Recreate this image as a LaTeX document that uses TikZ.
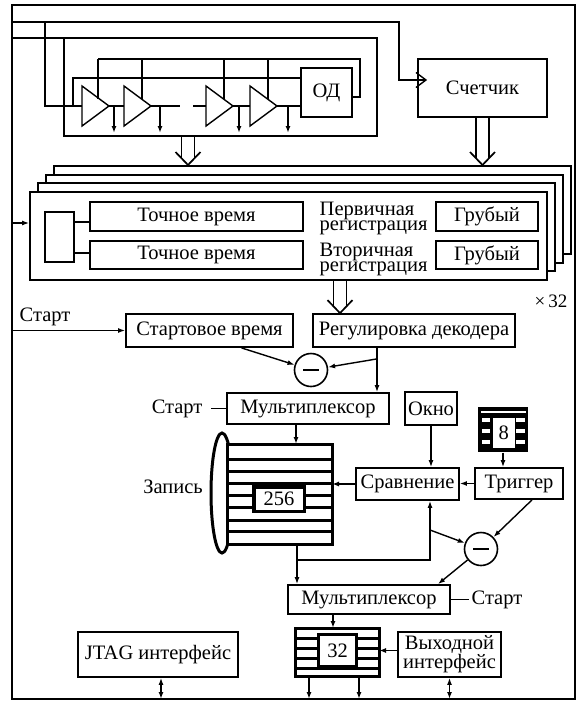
\documentclass[tikz,border=0pt]{standalone}
\usepackage{fontspec}
\setmainfont{Liberation Serif}
\usetikzlibrary{arrows.meta}

\tikzset{
  every picture/.style={line width=1.4pt},
  wire/.style={line width=1.4pt},
  arr/.style={wire,-{Latex[length=7pt,width=5pt]}},
  biarr/.style={wire,{Latex[length=7pt,width=5pt]}-{Latex[length=7pt,width=5pt]}},
  blk/.style 2 args={draw, line width=1.8pt, fill=white, inner sep=0pt,
    minimum width=#1, minimum height=#2, font=\fontsize{20.5}{20.5}\selectfont},
  lbl/.style={inner sep=0pt, font=\fontsize{20.5}{20.5}\selectfont},
  reg/.style={inner sep=0pt, align=left, font=\fontsize{20.5}{15}\selectfont},
  sub/.style={circle, draw, line width=1.6pt, minimum size=33pt, inner sep=0pt},
  layer/.style={draw, line width=1.8pt, fill=white, minimum width=517pt, minimum height=88pt},
  heavy/.style={draw, fill=white, outer sep=0pt, inner sep=0pt, font=\fontsize{20.5}{20.5}\selectfont},
}

% double (bus) arrow from #1 down to #2
\newcommand{\busarrow}[2]{%
  \draw[line width=1.7pt] ([xshift=-6.5pt]#1) -- ([xshift=-6.5pt,yshift=7pt]#2)
                          ([xshift=6.5pt]#1) -- ([xshift=6.5pt,yshift=7pt]#2);
  \draw[line width=1.7pt, line join=miter] ([xshift=-12.5pt,yshift=13pt]#2) -- (#2) -- ([xshift=12.5pt,yshift=13pt]#2);
}

\begin{document}
\begin{tikzpicture}[x=1pt,y=-1pt]
\useasboundingbox (0,0) rectangle (579,702);

% Outer frame
\coordinate (fnw) at (12,5);
\coordinate (fse) at (575,699);
\draw[line width=1.6pt] (fnw) rectangle (fse);

% Delay line with amplifiers
\node[blk={51pt}{49pt}] (od) at (326.5,92.5) {ОД};
\node[blk={129pt}{58pt}] (cnt) at (482.5,88) {Счетчик};
\draw[wire] (12,38) -- (64,38);
\draw[wire] (64,38) rectangle (377,136);
\draw[wire,shorten >=-10pt,-{Straight Barb[length=10pt,width=15pt]}] (12,22) -- (399,22) -- (399,80) -- (cnt.west |- 0,80);
\draw[wire] (45,22) -- (45,106) -- (82,106);
\draw[wire] (73,106) -- (73,78) -- (od.west |- 0,78);
\draw[wire] (98,59) -- (360,59) -- (360,97) -- (od.east |- 0,97);
\foreach \x/\t/\d in {82/98/114, 124/142/160, 206/224/239, 250/268/288} {
  \draw[wire, line join=miter] (\x,86) -- ++(27,20) -- ++(-27,20) -- cycle;
  \draw[wire] (\t,59) -- (\t,99);
  \draw[arr] (\d,106) -- (\d,133);
}
\draw[wire] (109,106) -- (124,106) (151,106) -- (180,106) (193,106) -- (206,106)
            (233,106) -- (250,106) (277,106) -- (od.west |- 0,106);

% Stack of 32 channels
\foreach \i in {3,2,1,0}
  \node[layer] (stk\i) at (288.5+8*\i, 236-8.7*\i) {};
\coordinate (dlo) at (188,136);
\coordinate (dli) at (dlo |- stk3.north);
\busarrow{dlo}{dli}
\coordinate (cnti) at (cnt.south |- stk3.north);
\busarrow{cnt.south}{cnti}

\coordinate (inp) at (12,223);
\draw[arr] (inp) -- (inp -| stk0.west);
\node[blk={29pt}{50pt}] (sel) at (59.5,237) {};
\node[blk={213pt}{29pt}] (fine1) at (196.5,216.5) {Точное время};
\node[blk={213pt}{28pt}] (fine2) at (196.5,255) {Точное время};
\draw[wire] (sel.east |- 0,222) -- (fine1.west |- 0,222);
\draw[wire] (sel.east |- 0,253) -- (fine2.west |- 0,253);
\node[blk={102pt}{29pt}] (crs1) at (487,216.5) {Грубый};
\node[blk={102pt}{28pt}] (crs2) at (487,255) {Грубый};
\node[reg, anchor=north west] (reg1) at (319,201) {Первичная\\регистрация};
\node[reg, anchor=north west] (reg2) at (319,242) {Вторичная\\регистрация};
\node[lbl, font=\fontsize{19}{19}\selectfont] (x32) at (551,301) {×\,32};

% Start time and decoder
\node[blk={202pt}{33pt}] (rd) at (414,330.5) {Регулировка декодера};
\coordinate (stko) at (340,280);
\coordinate (rdi) at (stko |- rd.north);
\busarrow{stko}{rdi}
\node[blk={167pt}{33pt}] (st) at (209.5,330.5) {Стартовое время};
\node[lbl] (start1) at (45,317) {Старт};
\draw[arr] (st.west -| fnw) -- (st.west);

\node[sub] (m1) at (311,370) {};
\draw[line width=2.8pt] ([xshift=-8pt]m1.center) -- ([xshift=8pt]m1.center);
\draw[arr] ([xshift=32pt]st.south) -- (m1);
\node[blk={162pt}{31pt}] (mux1) at (308,408.5) {Мультиплексор};
\coordinate (rdo) at ([xshift=-37pt]rd.south);
\coordinate (j1) at ([yshift=-11pt]rdo);
\draw[arr] (rdo) -- (rdo |- mux1.north);
\draw[arr] (j1) -- (m1);
\draw[wire] (mux1.west) -- ++(-15,0);
\node[lbl, anchor=east] (start2) at ([xshift=-23pt]mux1.west) {Старт};

% Window, trigger and comparison
\node[blk={52pt}{33pt}] (ok) at (431,408.5) {Окно};
\node[fill=black, minimum width=50pt, minimum height=45pt, inner sep=0pt] (reg8) at (503,429.5) {};
\fill[white] (481,410.5) rectangle (526,412.5);
\foreach \y in {417.5,428.5,439.5} {
  \fill[white] (481.5,\y) rectangle ++(8,4.5);
  \fill[white] (516,\y) rectangle ++(8.5,4.5);
}
\fill[white] (492.5,417.5) rectangle (515,448);
\node[lbl] (n8) at (503.7,433) {8};
\node[blk={88pt}{31pt}] (trg) at (519,483.5) {Триггер};
\node[blk={103pt}{32pt}] (cmp) at (407.5,484) {Сравнение};
\draw[arr] (reg8.south) -- (reg8.south |- trg.north);
\draw[arr] (ok.south) -- (ok.south |- cmp.north);
\draw[arr] (trg.west) -- (trg.west -| cmp.east);

% Memory of 256
\draw[line width=3pt] (222,493) ellipse (11 and 60);
\node[heavy, line width=3pt, minimum width=105pt, minimum height=100pt] (mem) at (279.5,494) {};
\foreach \y in {459,471,483,495,507,520,531}
  \draw[line width=3pt] (mem.west |- 0,\y) -- (mem.east |- 0,\y);
\node[heavy, line width=3.5pt, minimum width=50.5pt, minimum height=24.5pt] (m256) at (279,499) {256};
\node[lbl] (rec) at (173,487) {Запись};
\draw[arr] (cmp.west) -- (cmp.west -| mem.east);
\coordinate (mxo) at ([xshift=-12pt]mux1.south);
\draw[arr] (mxo) -- (mxo |- mem.north);

% Second subtraction and output multiplexer
\node[sub] (m2) at (481,549) {};
\draw[line width=2.8pt] ([xshift=-8pt]m2.center) -- ([xshift=8pt]m2.center);
\node[blk={162pt}{29pt}] (mux2) at (369,599.5) {Мультиплексор};
\coordinate (mmo) at ([xshift=17.5pt]mem.south);
\coordinate (j2) at ([xshift=17.5pt,yshift=-16pt]mem.south);
\coordinate (cmpi) at ([xshift=22.5pt]cmp.south);
\coordinate (j3) at (cmpi |- 0,530);
\draw[arr] (mmo) -- (mmo |- mux2.north);
\draw[arr] (j2) -| (cmpi);
\draw[arr] (j3) -- (m2);
\draw[arr] ([xshift=13pt]trg.south) -- (m2);
\draw[arr] (m2) -- ([xshift=69pt]mux2.north);
\draw[wire] (mux2.east) -- ++(18,0);
\node[lbl, anchor=west] (start3) at ([xshift=20pt]mux2.east) {Старт};

% Output register of 32 and interfaces
\node[heavy, line width=3pt, minimum width=84pt, minimum height=48pt] (r32) at (337,652) {};
\foreach \y in {638.5,648.5,658.5,668.5}
  \draw[line width=2.8pt] (r32.west |- 0,\y) -- (r32.east |- 0,\y);
\node[heavy, line width=3pt, minimum width=38pt, minimum height=32pt] (n32) at (337.5,650.5) {32};
\coordinate (mx2o) at ([xshift=-36pt]mux2.south);
\draw[arr] (mx2o) -- (mx2o |- r32.north);
\node[blk={103pt}{45pt}, align=center, font=\fontsize{20.5}{17}\selectfont] (out) at (449.5,654.5) {Выходной\\интерфейс};
\node[blk={160pt}{45pt}] (jtag) at (158,654.5) {JTAG интерфейс};
\coordinate (oin) at ([yshift=4pt]out.west);
\draw[arr] (oin) -- (oin -| r32.east);
\foreach \dx in {-28,22} {
  \coordinate (q) at ([xshift=\dx]r32.south);
  \draw[arr] (q) -- (q |- fse);
}
\draw[biarr] (out.south) -- (out.south |- fse);
\coordinate (jo) at ([xshift=3pt]jtag.south);
\draw[biarr] (jo) -- (jo |- fse);
\end{tikzpicture}
\end{document}
